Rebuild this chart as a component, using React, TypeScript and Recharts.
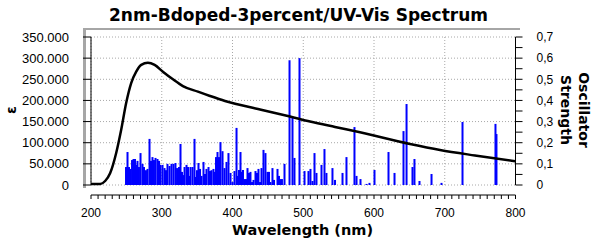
import React from 'react'
import {
    ComposedChart,
    Bar,
    Line,
    XAxis,
    YAxis,
    CartesianGrid,
} from 'recharts'

// absorption curve (epsilon)
const curveNm = [200, 213, 220, 227, 235.6, 242.6, 249.7, 256.8, 263.9, 271, 280.4, 289.9, 301.6, 315.8, 329.9, 351.1, 368.2, 389.4, 438.9, 481.3, 509.5, 544.9, 580.2, 650.9, 693.3, 742.7, 800]
const curveEps = [2400, 2400, 9500, 27700, 75700, 130000, 194000, 241000, 268000, 284000, 289000, 284000, 268000, 250000, 234000, 220700, 210500, 198700, 178600, 162000, 150200, 137200, 124600, 97000, 82800, 69800, 56000]

// oscillator strength sticks
const barNm = [
    249.5, 251.6, 253.7, 255.8, 258.0, 260.1, 262.2, 263.6, 265.7, 267.8, 270.0, 272.8, 274.9, 276.3, 277.7, 279.9,
    282.7, 284.8, 286.9, 289.0, 291.2, 294.0, 296.1, 298.2, 301.1, 303.9, 306.0, 308.1, 311.0, 313.8, 316.6, 319.4,
    321.6, 323.0, 324.4, 326.5, 328.6, 330.0, 332.2, 335.0, 337.1, 338.5, 340.6, 343.5, 346.3, 348.4, 349.8, 351.9,
    354.1, 356.2, 359.0, 361.1, 363.2, 366.1, 368.2, 370.3, 373.1, 375.3, 376.7, 378.8, 380.9, 383.0, 385.9, 388.7,
    391.5, 394.3, 397.2, 400.0, 402.8, 405.7, 407.8, 409.2, 411.3, 413.4, 414.8, 417.0, 419.1, 421.2, 423.3, 425.4,
    427.6, 429.7, 432.5, 434.6, 436.7, 438.9, 441.0, 443.8, 446.6, 449.5, 451.6, 453.7, 456.5, 458.7, 463.6, 465.7,
    467.8, 469.9, 473.5, 480.6, 484.8, 487.6, 494.7, 501.8, 507.4, 510.2, 513.1, 515.9, 518.7, 525.8, 530.0, 532.8,
    541.3, 544.9, 555.5, 561.1, 572.4, 575.3, 580.9, 589.4, 593.6, 600.7, 620.5, 629.0, 641.7, 646.0, 654.4, 657.2,
    664.3, 681.3, 695.4, 725.1, 771.7, 773.1,
]
const barF = [
    0.085, 0.156, 0.085, 0.076, 0.118, 0.123, 0.123, 0.095, 0.114, 0.085, 0.151, 0.1, 0.085, 0.063, 0.07, 0.076,
    0.218, 0.114, 0.132, 0.118, 0.128, 0.123, 0.114, 0.095, 0.095, 0.08, 0.07, 0.1, 0.09, 0.1, 0.1, 0.104,
    0.08, 0.07, 0.085, 0.194, 0.062, 0.047, 0.085, 0.095, 0.085, 0.043, 0.085, 0.085, 0.218, 0.038, 0.07, 0.104,
    0.076, 0.043, 0.109, 0.052, 0.076, 0.085, 0.066, 0.07, 0.076, 0.062, 0.132, 0.156, 0.132, 0.203, 0.16, 0.08,
    0.109, 0.151, 0.057, 0.014, 0.066, 0.27, 0.043, 0.071, 0.156, 0.062, 0.071, 0.028, 0.028, 0.08, 0.057, 0.062,
    0.014, 0.024, 0.066, 0.057, 0.076, 0.014, 0.08, 0.166, 0.151, 0.062, 0.062, 0.014, 0.08, 0.024, 0.076, 0.043,
    0.028, 0.028, 0.1, 0.59, 0.317, 0.128, 0.6, 0.066, 0.066, 0.076, 0.019, 0.151, 0.057, 0.095, 0.17, 0.057,
    0.08, 0.024, 0.057, 0.132, 0.274, 0.043, 0.028, 0.005, 0.01, 0.071, 0.156, 0.057, 0.255, 0.383, 0.085, 0.123,
    0.019, 0.052, 0.01, 0.298, 0.289, 0.241,
]

const xMajor = [200, 300, 400, 500, 600, 700, 800]
const xMinor = Array.from({ length: 61 }, (_, i) => 200 + i * 10)
const epsTicks = [0, 50000, 100000, 150000, 200000, 250000, 300000, 350000]
const oscTicks = [0, 0.05, 0.1, 0.15, 0.2, 0.25, 0.3, 0.35, 0.4, 0.45, 0.5, 0.55, 0.6, 0.65, 0.7]

const data = [
    ...curveNm.map((nm, i) => ({ nm, eps: curveEps[i] })),
    ...barNm.map((nm, i) => ({ nm, f: barF[i] })),
].sort((a, b) => a.nm - b.nm)

const fmtEps = (v: number) => (v === 0 ? '0' : String(v).replace(/\B(?=(\d{3})+(?!\d))/g, '.'))
const fmtOsc = (v: number) => {
    const k = Math.round(v * 20)
    if (k % 2) return ''
    return k === 0 ? '0' : (k / 20).toFixed(1).replace('.', ',')
}
const fmtNm = (v: number) => (v % 100 === 0 ? String(v) : '')

const Stick = (p: any) => {
    if (p.payload == null || p.payload.f == null || !isFinite(p.y) || !isFinite(p.height)) return null
    const cx = p.x + p.width / 2
    return <rect x={cx - 1} y={p.y} width={2} height={p.height} fill="#0000ff" />
}

// axis lines sit 10px away from the plot; tick labels live in another layer, so they get a bigger tickMargin instead
const css = `
g.recharts-xAxis { transform: translate(0px, 10px); }
g.recharts-yAxis:has(text[text-anchor="end"]) { transform: translate(-10px, 0px); }
g.recharts-yAxis:has(text[text-anchor="start"]) { transform: translate(10px, 0px); }
`

const boldFont = '"DejaVu Sans", Verdana, sans-serif'
const tickStyle = { fill: '#000', fontSize: 12, fontFamily: '"Liberation Sans", Arial, sans-serif' }

export default function App() {
    return (
        <div style={{ position: 'absolute', left: 0, top: 0, width: 597, height: 241, background: '#fff', fontFamily: '"Liberation Sans", Arial, sans-serif' }}>
            <style>{css}</style>
            <div
                style={{
                    position: 'absolute', left: 0, top: 7, width: 597, textAlign: 'center',
                    fontFamily: boldFont, fontWeight: 'bold', fontSize: 17, lineHeight: '17px', color: '#000',
                }}
            >
                2nm-Bdoped-3percent/UV-Vis Spectrum
            </div>
            <div
                style={{
                    position: 'absolute', left: 83, top: 28, width: 437, height: 160, boxSizing: 'border-box',
                    borderTop: '2px solid #a6a6a6', borderLeft: '3px solid #a6a6a6',
                }}
            />
            <ComposedChart width={597} height={241} data={data} margin={{ top: 37, right: 9.5, bottom: 16, left: 31 }}>
                <CartesianGrid yAxisId="eps" xAxisId="nm" verticalValues={xMajor} stroke="#a8a8a8" strokeDasharray="1 2" />
                <XAxis
                    xAxisId="nm"
                    dataKey="nm"
                    type="number"
                    domain={[200, 800]}
                    ticks={xMinor}
                    interval={0}
                    tickFormatter={fmtNm}
                    height={40}
                    axisLine={{ stroke: '#000' }}
                    tickLine={{ stroke: '#000' }}
                    tickSize={4}
                    tickMargin={19}
                    tick={tickStyle}
                />
                <YAxis
                    yAxisId="eps"
                    domain={[0, 350000]}
                    ticks={epsTicks}
                    interval={0}
                    tickFormatter={fmtEps}
                    width={60}
                    axisLine={{ stroke: '#000' }}
                    tickLine={{ stroke: '#000' }}
                    tickSize={8}
                    tickMargin={14}
                    tick={{ ...tickStyle, fontSize: 13 }}
                />
                <YAxis
                    yAxisId="osc"
                    orientation="right"
                    domain={[0, 0.7]}
                    ticks={oscTicks}
                    interval={0}
                    tickFormatter={fmtOsc}
                    width={72}
                    axisLine={{ stroke: '#000' }}
                    tickLine={{ stroke: '#000' }}
                    tickSize={7}
                    tickMargin={14}
                    tick={tickStyle}
                />
                <Bar xAxisId="nm" yAxisId="osc" dataKey="f" fill="#0000ff" shape={Stick} isAnimationActive={false} />
                <Line
                    xAxisId="nm"
                    yAxisId="eps"
                    dataKey="eps"
                    type="monotone"
                    stroke="#000"
                    strokeWidth={2.5}
                    dot={false}
                    connectNulls
                    isAnimationActive={false}
                />
            </ComposedChart>
            <div
                style={{
                    position: 'absolute', left: 11, top: 110, transform: 'translate(-50%, -50%) rotate(-90deg)',
                    fontFamily: boldFont, fontWeight: 'bold', fontSize: 14, lineHeight: '14px',
                }}
            >
                ε
            </div>
            <div
                style={{
                    position: 'absolute', left: 575, top: 110, transform: 'translate(-50%, -50%) rotate(90deg)',
                    fontFamily: boldFont, fontWeight: 'bold', fontSize: 14, lineHeight: '18px', textAlign: 'center', whiteSpace: 'nowrap',
                }}
            >
                Oscillator
                <br />
                Strength
            </div>
            <div
                style={{
                    position: 'absolute', left: 0, top: 223, width: 605, textAlign: 'center',
                    fontFamily: boldFont, fontWeight: 'bold', fontSize: 14.5, lineHeight: '14.5px',
                }}
            >
                Wavelength (nm)
            </div>
        </div>
    )
}
